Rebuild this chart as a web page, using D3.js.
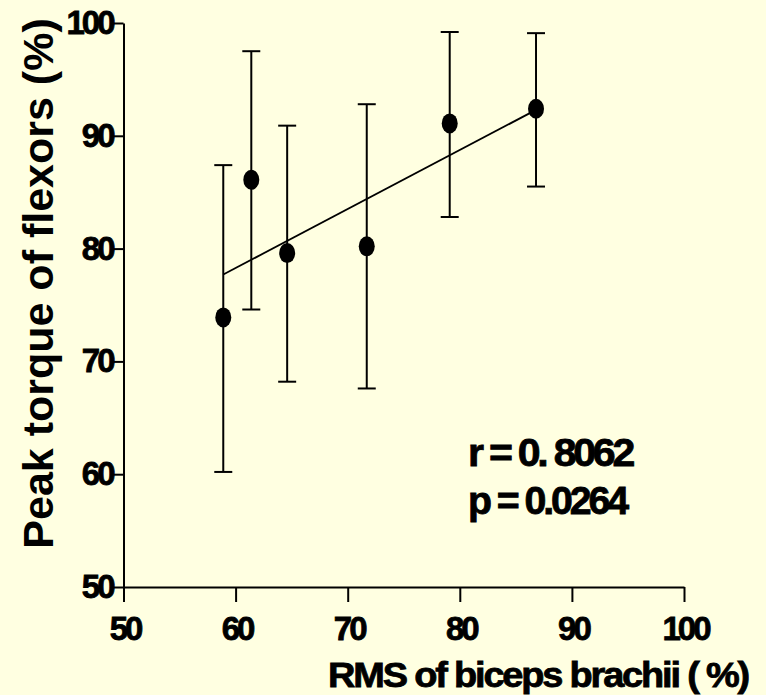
<!DOCTYPE html>
<html>
<head>
<meta charset="utf-8">
<script src="https://cdn.jsdelivr.net/npm/d3@7/dist/d3.min.js"></script>
<style>
  html, body { margin: 0; padding: 0; background: #FFFFE1; }
  svg { display: block; }
  text { font-family: "Liberation Sans", Arial, sans-serif; font-weight: bold; fill: #000; }
</style>
</head>
<body>
<script>
// ---- data ----
const rms      = [58.9, 61.4, 64.6, 71.7, 79.1, 86.8];   // RMS of biceps brachii (%)
const torque   = [73.9, 86.1, 79.6, 80.2, 91.1, 92.4];   // Peak torque of flexors (%)
const errUpper = [87.4, 97.5, 90.9, 92.8, 99.2, 99.1];
const errLower = [60.2, 74.6, 68.2, 67.6, 82.8, 85.5];
const fitX     = [58.9, 86.8];
const fitY     = [77.7, 92.3];
const xTicks   = [50, 60, 70, 80, 90, 100];
const yTicks   = [50, 60, 70, 80, 90, 100];
const statLines = ["r = 0. 8062", "p = 0.0264"];
const xTitle = "RMS of biceps brachii  ( %)";
const yTitle = "Peak torque of flexors (%)";

const W = 766, H = 695;
const svg = d3.select("body").append("svg").attr("width", W).attr("height", H);
svg.append("rect").attr("width", W).attr("height", H).attr("fill", "#FFFFE1");

const x = d3.scaleLinear().domain([50, 100]).range([123.5, 684]);
const y = d3.scaleLinear().domain([50, 100]).range([587, 23]);

// axes
const xAxis = svg.append("g").attr("transform", `translate(0,${y(50)})`)
  .call(d3.axisBottom(x).tickValues(xTicks).tickSize(15).tickPadding(15).tickSizeOuter(0));
const yAxis = svg.append("g").attr("transform", `translate(${x(50)},0)`)
  .call(d3.axisLeft(y).tickValues(yTicks).tickSize(11).tickPadding(3).tickSizeOuter(0));

[xAxis, yAxis].forEach(g => {
  g.select(".domain").attr("stroke", "#000").attr("stroke-width", 2);
  g.selectAll(".tick line").attr("stroke", "#000").attr("stroke-width", 2);
  g.selectAll(".tick text")
    .style("font-family", '"Liberation Sans", Arial, sans-serif')
    .style("font-weight", "bold")
    .style("font-size", "33px")
    .style("letter-spacing", "-3px")
    .attr("stroke", "#000").attr("stroke-width", 0.8)
    .attr("fill", "#000");
});
yAxis.selectAll(".tick text").attr("dx", "3px");
xAxis.selectAll(".tick text").attr("dx", "1px");

// regression line
svg.append("line")
  .attr("x1", x(fitX[0])).attr("y1", y(fitY[0]))
  .attr("x2", x(fitX[1])).attr("y2", y(fitY[1]))
  .attr("stroke", "#000").attr("stroke-width", 1.8);

// error bars
const pts = rms.map((v, i) => ({x: v, y: torque[i], hi: errUpper[i], lo: errLower[i]}));
const eb = svg.append("g").attr("stroke", "#000").attr("stroke-width", 2);
pts.forEach(d => {
  eb.append("line").attr("x1", x(d.x)).attr("x2", x(d.x)).attr("y1", y(d.hi)).attr("y2", y(d.lo));
  eb.append("line").attr("x1", x(d.x) - 9).attr("x2", x(d.x) + 9).attr("y1", y(d.hi)).attr("y2", y(d.hi));
  eb.append("line").attr("x1", x(d.x) - 9).attr("x2", x(d.x) + 9).attr("y1", y(d.lo)).attr("y2", y(d.lo));
});

// points
svg.append("g").selectAll("ellipse").data(pts).join("ellipse")
  .attr("cx", d => x(d.x)).attr("cy", d => y(d.y))
  .attr("rx", 8).attr("ry", 10).attr("fill", "#000");

// stats text
svg.append("text").attr("x", 468).attr("y", 466)
  .attr("textLength", 164).attr("lengthAdjust", "spacingAndGlyphs")
  .attr("stroke", "#000").attr("stroke-width", 0.8)
  .style("font-size", "38px").style("letter-spacing", "-3px").text(statLines[0]);
svg.append("text").attr("x", 468).attr("y", 514)
  .attr("textLength", 158).attr("lengthAdjust", "spacingAndGlyphs")
  .attr("stroke", "#000").attr("stroke-width", 0.8)
  .style("font-size", "38px").style("letter-spacing", "-3px").text(statLines[1]);

// axis titles
svg.append("text").attr("x", 328).attr("y", 687)
  .attr("textLength", 420).attr("lengthAdjust", "spacingAndGlyphs")
  .attr("stroke", "#000").attr("stroke-width", 0.8)
  .style("font-size", "35px").style("letter-spacing", "-2px").text(xTitle);

svg.append("text")
  .attr("transform", `translate(53,${(20 + 547) / 2}) rotate(-90)`)
  .attr("text-anchor", "middle")
  .style("font-size", "43px").text(yTitle);
</script>
</body>
</html>
